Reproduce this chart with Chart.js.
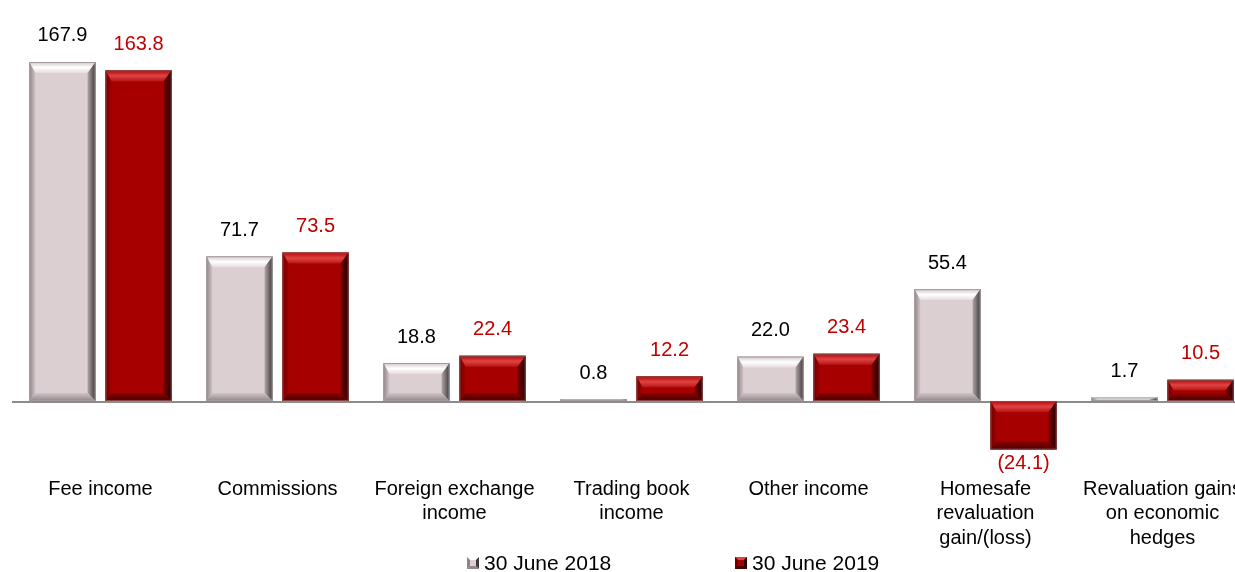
<!DOCTYPE html>
<html>
<head>
<meta charset="utf-8">
<title>Non-interest income</title>
<script src="https://cdn.jsdelivr.net/npm/chart.js@4/dist/chart.umd.min.js"></script>
<style>
  html, body { margin: 0; padding: 0; background: #fff; overflow: hidden; }
  #wrap { position: absolute; left: 0; top: 0; width: 1251px; height: 572px; }
</style>
</head>
<body>
<div id="wrap"><canvas id="chart" width="1251" height="572"></canvas></div>
<script>
// categories (multi-line, as on the slide)
const categories = [
  ['Fee income'],
  ['Commissions'],
  ['Foreign exchange', 'income'],
  ['Trading book', 'income'],
  ['Other income'],
  ['Homesafe', 'revaluation', 'gain/(loss)'],
  ['Revaluation gains', 'on economic', 'hedges']
];
const seriesNames = ['30 June 2018', '30 June 2019'];
const june2018 = [167.9, 71.7, 18.8, 0.8, 22.0, 55.4, 1.7];
const june2019 = [163.8, 73.5, 22.4, 12.2, 23.4, -24.1, 10.5];

const FONT = '"Liberation Sans", Arial, sans-serif';

// colour sets for the bevelled bars (outer -> inner for each edge)
const looks = [
  { face: '#dccfd2', top: ['#d2c6c9', '#ffffff', '#e6dbde'], left: ['#8e8487', '#d0c5c8'],
    right: ['#3e3839', '#b0a6a9'], bottom: ['#928789', '#cfc4c7'], edge: '#a29a9c', label: '#000000' },
  { face: '#a60000', top: ['#ac0a0a', '#e24242', '#b41616'], left: ['#700000', '#a00000'],
    right: ['#220000', '#7a0000'], bottom: ['#480000', '#8a0000'], edge: '#8a4a4a', label: '#c00000' }
];

function fmt(v) {
  const s = Math.abs(v).toFixed(1);
  return v < 0 ? '(' + s + ')' : s;
}

function poly(ctx, pts, fill) {
  ctx.beginPath();
  ctx.moveTo(pts[0][0], pts[0][1]);
  for (let i = 1; i < pts.length; i++) ctx.lineTo(pts[i][0], pts[i][1]);
  ctx.closePath();
  ctx.fillStyle = fill;
  ctx.fill();
}

function grad(ctx, x0, y0, x1, y1, c) {
  const g = ctx.createLinearGradient(x0, y0, x1, y1);
  c.forEach((col, k) => g.addColorStop(k / (c.length - 1), col));
  return g;
}

// zero line drawn under the bars
const zeroLine = {
  id: 'zeroLine',
  beforeDatasetsDraw(chart) {
    const { ctx, chartArea, scales } = chart;
    const y = Math.round(scales.y.getPixelForValue(0)) + 1;
    ctx.save();
    ctx.strokeStyle = '#8c8c8c';
    ctx.lineWidth = 2;
    ctx.beginPath();
    ctx.moveTo(chartArea.left, y);
    ctx.lineTo(chart.width, y);
    ctx.stroke();
    ctx.restore();
  }
};

// bevel, value labels, category labels, legend
const decor = {
  id: 'decor',
  afterDatasetsDraw(chart) {
    const { ctx, scales } = chart;
    ctx.save();
    chart.data.datasets.forEach((ds, di) => {
      const look = looks[di];
      chart.getDatasetMeta(di).data.forEach((bar, i) => {
        const L = bar.x - bar.width / 2, R = bar.x + bar.width / 2;
        const T = Math.min(bar.y, bar.base), B = Math.max(bar.y, bar.base);
        const h = B - T;
        const k = Math.min(1, h / 22);
        const bt = 11 * k, bb = 8 * k, bl = 6, br = 8;
        if (h > 0.5) {
          poly(ctx, [[L, T], [R, T], [R - br, T + bt], [L + bl, T + bt]], grad(ctx, 0, T, 0, T + bt, look.top));
          poly(ctx, [[L, T], [L + bl, T + bt], [L + bl, B - bb], [L, B]], grad(ctx, L, 0, L + bl, 0, look.left));
          poly(ctx, [[R, T], [R, B], [R - br, B - bb], [R - br, T + bt]], grad(ctx, R, 0, R - br, 0, look.right));
          poly(ctx, [[L, B], [R, B], [R - br, B - bb], [L + bl, B - bb]], grad(ctx, 0, B, 0, B - bb, look.bottom));
          ctx.strokeStyle = look.edge;
          ctx.lineWidth = 1;
          ctx.strokeRect(L + 0.5, T + 0.5, bar.width - 1, h - 1);
        }
        // value label
        const v = ds.data[i];
        ctx.font = '20px ' + FONT;
        ctx.fillStyle = look.label;
        ctx.textAlign = 'center';
        ctx.textBaseline = 'middle';
        const ly = v >= 0 ? T - 26 : B + 14;
        ctx.fillText(fmt(v), bar.x, ly);
      });
    });

    // category labels under the plot
    ctx.font = '20px ' + FONT;
    ctx.fillStyle = '#000';
    ctx.textAlign = 'center';
    ctx.textBaseline = 'middle';
    chart.data.labels.forEach((lines, i) => {
      const x = scales.x.getPixelForValue(i);
      lines.forEach((t, k) => ctx.fillText(t, x, 489 + k * 24.5));
    });

    // legend
    const legendX = [467, 735];
    seriesNames.forEach((name, di) => {
      const look = looks[di];
      const x = legendX[di], y = 557, s = 12, b = 3;
      ctx.fillStyle = look.face;
      ctx.fillRect(x, y, s, s);
      poly(ctx, [[x, y], [x + s, y], [x + s - b, y + b], [x + b, y + b]], look.top[1]);
      poly(ctx, [[x, y], [x + b, y + b], [x + b, y + s - b], [x, y + s]], look.left[0]);
      poly(ctx, [[x + s, y], [x + s, y + s], [x + s - b, y + s - b], [x + s - b, y + b]], look.right[0]);
      poly(ctx, [[x, y + s], [x + s, y + s], [x + s - b, y + s - b], [x + b, y + s - b]], look.bottom[0]);
      ctx.font = '21px ' + FONT;
      ctx.fillStyle = '#000';
      ctx.textAlign = 'left';
      ctx.textBaseline = 'middle';
      ctx.fillText(name, x + 17, 564);
    });
    ctx.restore();
  }
};

new Chart(document.getElementById('chart'), {
  type: 'bar',
  data: {
    labels: categories,
    datasets: [
      { label: seriesNames[0], data: june2018, backgroundColor: looks[0].face,
        categoryPercentage: 0.86, barPercentage: 0.87 },
      { label: seriesNames[1], data: june2019, backgroundColor: looks[1].face,
        categoryPercentage: 0.86, barPercentage: 0.87 }
    ]
  },
  options: {
    responsive: false,
    animation: false,
    devicePixelRatio: 1,
    layout: { padding: { left: 12, right: 0, top: 0, bottom: 102 } },
    scales: {
      x: { display: false },
      y: { display: false, min: -34.2, max: 198.6 }
    },
    plugins: {
      legend: { display: false },
      tooltip: { enabled: false }
    }
  },
  plugins: [zeroLine, decor]
});
</script>
</body>
</html>
